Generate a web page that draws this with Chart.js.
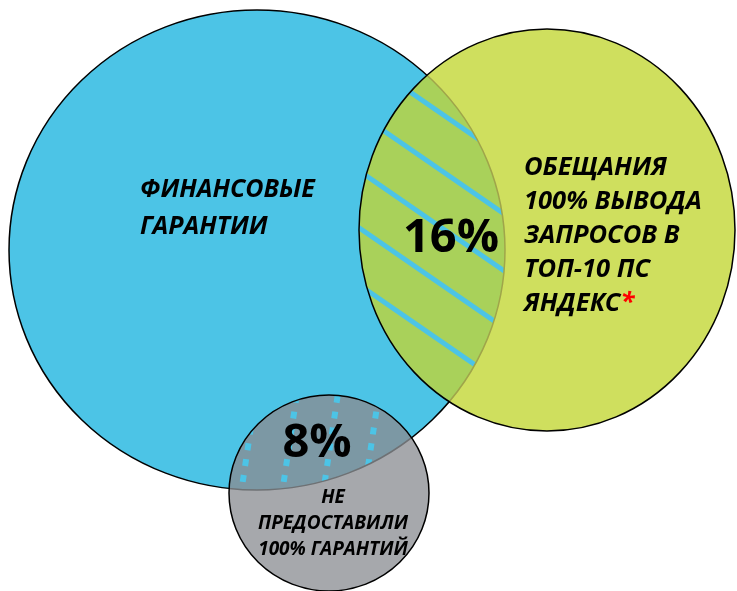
<!DOCTYPE html>
<html><head><meta charset="utf-8">
<script src="https://cdn.jsdelivr.net/npm/chart.js@4"></script>
<style>html,body{margin:0;padding:0;background:#fff}</style>
</head><body>
<canvas id="venn" width="737" height="591"></canvas>
<script>
// circles: blue = financial guarantees, yellow = top-10 promise, gray = no guarantees
const circleNames=["ФИНАНСОВЫЕ ГАРАНТИИ","ОБЕЩАНИЯ 100% ВЫВОДА ЗАПРОСОВ В ТОП-10 ПС ЯНДЕКС","НЕ ПРЕДОСТАВИЛИ 100% ГАРАНТИЙ"];
const centerX=[257,547,329];
const centerY=[250,230,493];
const radiusX=[248,188,100];
const radiusY=[240,201,98];
const circleColors=["#4cc4e6","#cfdf5e","#a6a8ac"];

// overlaps: blue∩yellow, blue∩gray
const overlapValues=["16%","8%"];
const overlapX=[451,317];
const overlapY=[252,457];
const overlapColors=["#a9d15a","#7c98a4"];

const nameLines=[["ФИНАНСОВЫЕ","ГАРАНТИИ"],["ОБЕЩАНИЯ","100% ВЫВОДА","ЗАПРОСОВ В","ТОП-10 ПС","ЯНДЕКС"],["НЕ","ПРЕДОСТАВИЛИ","100% ГАРАНТИЙ"]];
const nameX=[140,524,333];
const nameY=[197,175,503];

function ellPath(ctx,s,i){
  const px=s.x.getPixelForValue(centerX[i]), py=s.y.getPixelForValue(centerY[i]);
  const rx=Math.abs(s.x.getPixelForValue(centerX[i]+radiusX[i])-px);
  const ry=Math.abs(s.y.getPixelForValue(centerY[i]+radiusY[i])-py);
  ctx.beginPath(); ctx.ellipse(px,py,rx,ry,0,0,Math.PI*2);
}

const vennPlugin={id:"venn",afterDatasetsDraw(chart){
  const ctx=chart.ctx, s=chart.scales;
  ctx.save(); ctx.lineWidth=1.5;
  // blue
  ellPath(ctx,s,0); ctx.fillStyle=circleColors[0]; ctx.fill(); ctx.strokeStyle="#000"; ctx.stroke();
  // yellow
  ellPath(ctx,s,1); ctx.fillStyle=circleColors[1]; ctx.fill();
  // blue∩yellow with stripes
  ctx.save(); ellPath(ctx,s,1); ctx.clip(); ellPath(ctx,s,0); ctx.fillStyle=overlapColors[0]; ctx.fill();
  ctx.clip();
  ctx.strokeStyle=circleColors[0]; ctx.lineWidth=5;
  for(let b=-305;b<200;b+=57){ctx.beginPath();ctx.moveTo(250,0.69*250+b);ctx.lineTo(600,0.69*600+b);ctx.stroke();}
  ctx.restore();
  ctx.save(); ellPath(ctx,s,1); ctx.clip(); ellPath(ctx,s,0); ctx.strokeStyle="#9fa54a"; ctx.lineWidth=1.5; ctx.stroke(); ctx.restore();
  ellPath(ctx,s,1); ctx.strokeStyle="#000"; ctx.stroke();
  // gray
  ellPath(ctx,s,2); ctx.fillStyle=circleColors[2]; ctx.fill();
  ctx.save(); ellPath(ctx,s,2); ctx.clip(); ellPath(ctx,s,0); ctx.fillStyle=overlapColors[1]; ctx.fill();
  ctx.clip();
  ctx.strokeStyle=circleColors[0]; ctx.lineWidth=6; ctx.setLineDash([7,9]);
  for(let x0=208;x0<420;x0+=41){ctx.beginPath();ctx.moveTo(x0+0.15*60,380);ctx.lineTo(x0-0.15*60,500);ctx.stroke();}
  ctx.restore();
  ctx.save(); ellPath(ctx,s,2); ctx.clip(); ellPath(ctx,s,0); ctx.strokeStyle="#6e7174"; ctx.lineWidth=1.5; ctx.stroke(); ctx.restore();
  ellPath(ctx,s,2); ctx.strokeStyle="#000"; ctx.lineWidth=1.5; ctx.stroke();

  // texts
  ctx.fillStyle="#000"; ctx.textBaseline="alphabetic";
  ctx.font="bold 47px 'Open Sans'"; ctx.textAlign="center";
  overlapValues.forEach((v,i)=>ctx.fillText(v,s.x.getPixelForValue(overlapX[i]),s.y.getPixelForValue(overlapY[i])));
  const fonts=["italic bold 25px 'Open Sans'","italic bold 25.5px 'Open Sans'","italic bold 19px 'Open Sans'"];
  const lh=[37,34,26], al=["left","left","center"];
  nameLines.forEach((lines,i)=>{
    ctx.font=fonts[i]; ctx.textAlign=al[i];
    lines.forEach((t,k)=>{
      const x=s.x.getPixelForValue(nameX[i]), y=s.y.getPixelForValue(nameY[i]+k*lh[i]);
      ctx.fillStyle="#000"; ctx.fillText(t,x,y);
      if(i===1&&k===lines.length-1){ctx.fillStyle="#ff0000"; ctx.textAlign="left"; ctx.fillText("*",x+ctx.measureText(t).width,y-1);}
    });
  });
  ctx.restore();
}};

new Chart(document.getElementById("venn"),{
  type:"bubble",
  data:{datasets:[{label:"circles",data:centerX.map((x,i)=>({x,y:centerY[i],r:0})),backgroundColor:"transparent",borderWidth:0,hoverRadius:0}]},
  options:{responsive:false,animation:false,layout:{padding:0},
    plugins:{legend:{display:false},tooltip:{enabled:false}},
    scales:{x:{type:"linear",min:0,max:737,display:false},y:{type:"linear",min:0,max:591,reverse:true,display:false}}},
  plugins:[vennPlugin]
});
</script>
</body></html>
